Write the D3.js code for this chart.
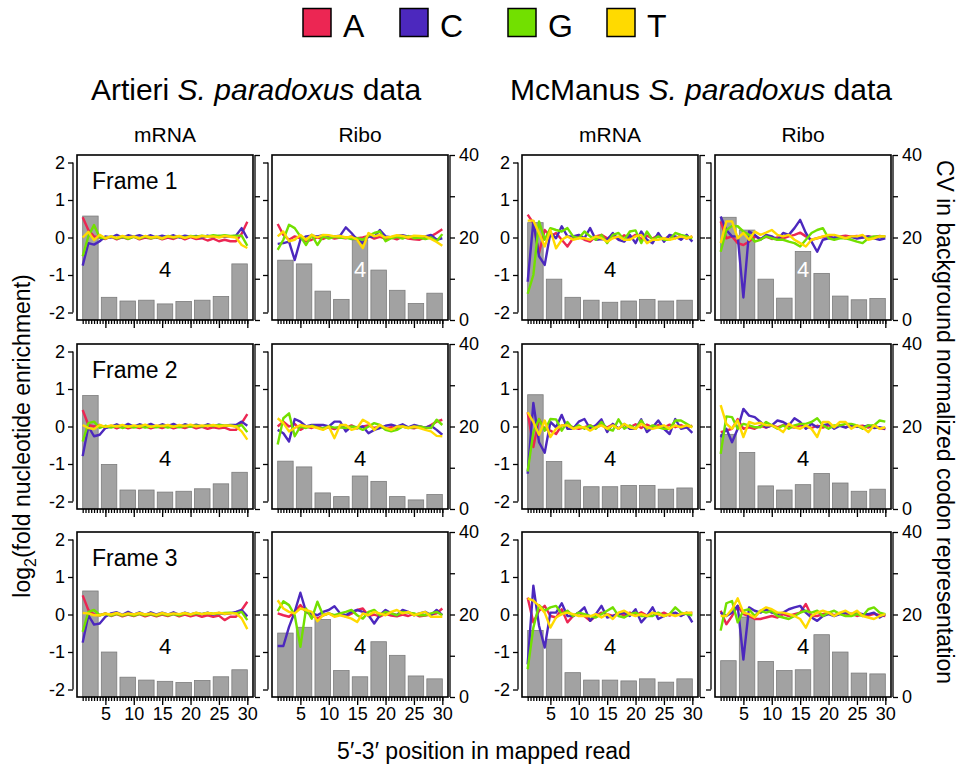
<!DOCTYPE html>
<html>
<head>
<meta charset="utf-8">
<script src="https://cdn.jsdelivr.net/npm/d3@7"></script>
<style>
  html, body { margin: 0; padding: 0; background: #fff; }
  svg { display: block; font-family: "Liberation Sans", Arial, Helvetica, sans-serif; }
</style>
</head>
<body>
<svg id="chart" width="961" height="772"></svg>
<script>
// ---- categories and tick labels ----
const nucleotides = ["A", "C", "G", "T"];
const nucColors = ["#EC2653", "#4C28BE", "#72E000", "#FFDA00"];
const positions = [1,2,3,4,5,6,7,8,9,10,11,12,13,14,15,16,17,18,19,20,21,22,23,24,25,26,27,28,29,30];
const codons = [1,2,3,4,5,6,7,8,9];
const xTickLabels = [5, 10, 15, 20, 25, 30];
const log2Ticks = [-2, -1, 0, 1, 2];
const cvTicks = [0, 10, 20, 30, 40];
const cvTickLabels = [0, 20, 40];
const datasets = ["Artieri", "McManus"];
const libraries = ["mRNA", "Ribo"];
const frames = ["Frame 1", "Frame 2", "Frame 3"];
const markerText = "4";
const markerCodon = 5;

// ---- Artieri mRNA, frame 1 ----
const artMrnaF1_A = [0.54,0.2,0.03,0.0,-0.04,0.02,-0.05,0.01,-0.04,0.02,-0.05,0.0,-0.03,0.01,-0.05,0.0,-0.04,0.02,-0.05,0.01,-0.04,-0.02,-0.08,-0.03,-0.1,-0.06,-0.1,-0.1,0.1,0.42];
const artMrnaF1_C = [-0.75,-0.15,-0.19,-0.1,0.03,0.0,0.07,0.0,0.06,0.02,0.06,0.01,0.06,0.0,0.05,0.01,0.06,0.0,0.05,0.02,0.04,0.0,0.05,0.01,0.04,0.02,0.03,0.05,0.25,-0.02];
const artMrnaF1_G = [-0.5,0.03,0.33,0.0,-0.02,0.03,-0.03,0.02,-0.04,0.02,-0.03,0.03,-0.02,0.02,-0.03,0.04,0.0,0.03,-0.01,0.04,0.02,0.05,0.03,0.06,0.04,0.06,0.04,0.05,0.05,-0.22];
const artMrnaF1_T = [0.0,0.15,-0.07,0.07,-0.02,0.03,-0.01,0.04,0.0,0.03,-0.02,0.04,0.0,0.02,-0.02,0.03,0.01,0.04,-0.01,0.03,0.0,0.04,0.02,0.03,0.0,0.04,0.02,0.0,-0.2,-0.28];
const artMrnaF1_cv = [25.2,5.5,4.6,4.8,3.9,4.5,4.8,5.7,13.6];

// ---- Artieri Ribo, frame 1 ----
const artRiboF1_A = [0.36,0.07,-0.06,0.03,-0.02,-0.1,-0.06,0.0,-0.04,0.02,-0.03,0.0,-0.02,0.03,-0.02,0.0,0.04,-0.03,0.02,-0.04,0.0,-0.05,0.02,-0.03,-0.05,-0.06,0.0,0.03,0.12,0.22];
const artRiboF1_C = [-0.17,-0.15,-0.11,-0.6,-0.06,0.03,0.05,0.03,0.06,0.04,0.03,0.05,0.27,0.12,-0.06,-0.15,0.03,0.01,0.2,0.03,0.0,0.04,0.06,0.02,0.03,0.0,0.03,0.07,-0.06,-0.02];
const artRiboF1_G = [-0.33,-0.06,0.34,0.25,0.03,-0.2,0.07,-0.2,0.03,-0.03,0.02,-0.01,0.0,-0.04,-0.02,-0.06,0.05,0.12,0.16,-0.1,-0.02,0.02,-0.03,0.04,-0.02,0.0,-0.04,0.0,-0.1,0.09];
const artRiboF1_T = [0.03,0.16,-0.1,-0.06,0.07,-0.06,0.07,0.0,0.07,0.06,0.03,0.04,0.0,0.02,-0.06,-0.28,0.12,0.03,0.07,0.0,0.02,0.06,0.04,0.0,0.05,0.04,0.03,-0.04,-0.12,-0.22];
const artRiboF1_cv = [14.5,13.6,7.0,5.0,19.4,12.1,7.2,4.0,6.5];

// ---- McManus mRNA, frame 1 ----
const mcmMrnaF1_A = [0.61,0.38,-0.42,0.2,0.03,0.12,-0.06,-0.24,-0.02,0.03,-0.06,-0.11,0.03,0.07,-0.02,0.04,-0.05,0.06,-0.03,0.07,-0.04,0.05,-0.03,0.06,-0.05,0.04,-0.02,0.05,-0.03,0.03];
const mcmMrnaF1_C = [-1.18,0.43,-0.5,-0.73,0.12,-0.02,0.3,0.03,0.03,0.07,-0.02,0.25,-0.06,-0.04,-0.06,0.12,-0.06,-0.11,0.07,-0.15,0.16,-0.06,-0.15,0.12,-0.11,0.07,0.03,-0.06,0.07,-0.11];
const mcmMrnaF1_G = [-1.5,-1.0,0.43,-0.06,0.25,0.2,0.16,0.25,0.03,-0.02,0.16,0.03,-0.06,0.07,-0.15,0.07,0.12,-0.06,0.16,0.19,-0.15,0.16,-0.06,0.03,-0.06,-0.06,0.12,0.07,0.03,-0.02];
const mcmMrnaF1_T = [0.45,0.45,0.12,-0.24,0.2,-0.29,-0.06,0.03,-0.06,-0.02,-0.02,-0.06,0.03,-0.02,-0.11,-0.02,0.03,-0.06,-0.06,0.03,0.07,-0.15,-0.06,-0.06,-0.02,-0.06,-0.02,0.03,-0.02,0.03];
const mcmMrnaF1_cv = [23.6,9.9,5.5,4.8,4.3,4.6,5.0,4.6,4.8];

// ---- McManus Ribo, frame 1 ----
const mcmRiboF1_A = [0.43,-0.02,0.03,-0.15,-0.2,-0.11,0.03,-0.03,0.02,-0.04,0.0,-0.02,0.03,0.07,0.13,0.03,-0.06,-0.02,0.02,0.04,-0.02,0.03,0.05,0.02,0.04,0.0,0.03,0.01,0.04,0.02];
const mcmRiboF1_C = [0.56,0.2,0.03,0.03,-1.6,0.16,0.07,-0.06,0.07,0.03,-0.06,0.12,0.07,0.25,0.47,0.12,-0.11,-0.38,-0.06,-0.02,0.0,0.03,-0.02,0.02,-0.03,0.0,0.03,-0.02,-0.06,-0.02];
const mcmRiboF1_G = [-0.38,0.2,0.31,0.3,0.16,0.07,-0.11,-0.06,0.03,-0.02,-0.06,-0.06,-0.11,-0.15,-0.24,-0.06,0.12,0.2,0.25,-0.02,-0.06,-0.02,-0.02,-0.06,-0.11,-0.15,-0.02,0.03,0.03,0.03];
const mcmRiboF1_T = [-0.15,0.43,0.43,-0.02,0.12,-0.06,0.16,0.07,0.13,0.2,0.07,0.03,0.07,-0.06,-0.15,-0.24,-0.06,-0.02,0.03,0.07,0.07,0.03,-0.02,0.03,0.03,0.07,-0.06,-0.02,0.03,0.03];
const mcmRiboF1_cv = [24.9,21.8,9.9,5.3,16.6,11.3,5.8,4.9,5.2];

// ---- Artieri mRNA, frame 2 ----
const artMrnaF2_A = [0.44,0.04,0.0,0.04,-0.04,0.02,-0.05,0.01,-0.05,0.0,-0.04,0.01,-0.05,0.0,-0.04,0.01,-0.05,0.0,-0.04,0.01,-0.05,-0.01,-0.06,-0.02,-0.05,-0.03,-0.09,-0.09,0.09,0.33];
const artMrnaF2_C = [-0.79,0.0,-0.26,-0.22,-0.04,0.0,0.06,-0.01,0.07,0.0,0.06,0.01,0.07,0.0,0.06,0.01,0.07,0.0,0.06,0.01,0.05,0.0,0.06,0.01,0.05,0.02,0.04,0.04,0.13,0.02];
const artMrnaF2_G = [-0.4,0.09,0.13,-0.04,0.02,-0.03,0.02,-0.04,0.01,-0.03,0.02,-0.03,0.0,-0.02,0.02,-0.03,0.01,-0.02,0.02,-0.01,0.03,0.0,0.03,0.01,0.04,0.02,0.03,0.0,0.04,-0.15];
const artMrnaF2_T = [0.04,-0.04,-0.07,0.04,-0.01,0.03,0.0,0.04,-0.01,0.03,0.0,0.05,-0.01,0.03,0.01,0.04,-0.01,0.04,0.01,0.05,0.0,0.03,0.01,0.04,0.0,0.03,0.02,0.0,-0.13,-0.35];
const artMrnaF2_cv = [27.5,10.8,4.6,4.6,4.1,4.3,4.9,6.1,8.9];

// ---- Artieri Ribo, frame 2 ----
const artRiboF2_A = [0.0,0.13,0.0,0.07,-0.09,0.0,-0.04,0.02,-0.06,-0.02,-0.07,0.0,-0.04,0.03,-0.05,0.0,0.03,-0.04,0.0,-0.06,-0.02,-0.04,0.0,-0.03,-0.05,0.0,-0.04,0.04,0.13,0.18];
const artRiboF2_C = [-0.09,-0.18,-0.4,0.2,0.13,0.0,0.04,0.04,0.04,0.0,0.13,0.13,-0.13,0.0,-0.04,0.0,-0.18,-0.09,-0.04,0.02,0.05,0.0,0.06,-0.02,0.04,0.0,-0.03,0.02,-0.09,-0.22];
const artRiboF2_G = [-0.48,0.22,0.35,-0.26,0.0,-0.04,0.02,-0.03,-0.05,0.0,-0.03,-0.02,-0.04,0.0,-0.02,-0.09,0.0,0.09,0.04,-0.09,-0.13,-0.09,0.0,-0.04,-0.02,0.0,-0.03,-0.04,0.18,0.04];
const artRiboF2_T = [0.22,0.09,-0.13,-0.04,0.04,0.0,0.0,-0.04,-0.09,0.0,-0.31,0.04,0.04,-0.09,-0.04,0.18,0.09,-0.09,0.04,-0.04,-0.09,0.0,0.0,-0.04,0.0,-0.04,-0.09,-0.13,-0.25,-0.26];
const artRiboF2_cv = [11.6,10.2,3.9,3.0,8.0,6.7,3.0,2.2,3.5];

// ---- McManus mRNA, frame 2 ----
const mcmMrnaF2_A = [0.38,-0.55,0.2,-0.06,-0.11,-0.2,0.03,0.03,-0.02,-0.06,-0.02,0.03,-0.04,0.05,-0.03,0.06,-0.05,0.04,-0.02,0.06,-0.04,0.05,-0.02,0.04,-0.03,0.05,-0.02,0.04,-0.03,0.02];
const mcmMrnaF2_C = [-1.26,0.63,-0.42,-0.7,0.12,-0.02,0.31,-0.06,-0.06,0.13,0.2,-0.06,0.03,0.19,-0.15,0.07,-0.06,0.07,-0.06,-0.06,0.19,-0.15,-0.02,0.16,-0.06,-0.2,0.2,-0.06,-0.02,-0.17];
const mcmMrnaF2_G = [-1.2,-0.15,0.2,-0.11,0.2,0.19,-0.11,0.12,-0.06,0.03,-0.06,0.03,-0.06,0.12,-0.06,-0.11,0.19,-0.06,0.03,-0.06,0.16,-0.06,0.03,-0.02,-0.06,-0.06,0.16,0.16,0.07,-0.02];
const mcmMrnaF2_T = [0.38,0.12,-0.22,0.16,-0.28,-0.06,0.03,0.03,-0.06,-0.02,-0.02,-0.11,-0.02,0.03,-0.06,0.03,-0.06,0.07,-0.02,-0.06,0.07,-0.02,-0.06,-0.02,0.03,-0.06,0.03,-0.02,0.03,-0.02];
const mcmMrnaF2_cv = [27.7,11.5,7.0,5.4,5.4,5.7,5.7,4.8,5.1];

// ---- McManus Ribo, frame 2 ----
const mcmRiboF2_A = [-0.15,-0.11,-0.06,0.2,-0.06,-0.02,-0.06,0.02,-0.03,0.03,-0.02,0.04,0.0,-0.03,0.03,0.0,-0.04,0.02,-0.03,0.03,0.0,0.04,-0.02,0.03,0.0,0.02,-0.03,0.03,-0.05,-0.07];
const mcmRiboF2_C = [-0.28,-0.06,-0.42,-0.06,0.47,0.29,0.25,0.12,-0.02,0.03,0.16,0.12,0.03,0.22,0.12,-0.06,0.07,-0.02,0.03,0.07,-0.06,0.02,-0.03,0.04,0.0,-0.02,0.03,-0.04,-0.02,-0.06];
const mcmRiboF2_G = [-0.73,0.27,0.25,-0.06,0.07,0.03,-0.02,-0.02,0.12,0.03,-0.06,0.03,-0.06,0.03,0.07,0.07,0.12,0.22,0.03,-0.06,0.03,0.03,0.07,0.07,0.03,-0.06,0.03,0.03,0.16,0.13];
const mcmRiboF2_T = [0.57,0.07,-0.06,0.16,-0.28,0.12,0.07,0.1,0.03,0.03,-0.04,-0.15,0.07,-0.02,-0.06,0.03,-0.06,-0.28,0.12,0.12,-0.02,0.12,0.12,-0.06,0.03,-0.02,-0.15,0.03,-0.06,-0.02];
const mcmRiboF2_cv = [18.1,13.7,5.6,4.6,5.9,8.6,6.3,4.3,4.8];

// ---- Artieri mRNA, frame 3 ----
const artMrnaF3_A = [0.51,0.12,0.0,-0.02,0.03,-0.04,0.01,-0.05,0.0,-0.04,0.01,-0.05,0.0,-0.05,0.0,-0.04,0.01,-0.05,0.0,-0.05,-0.01,-0.06,-0.02,-0.06,-0.03,-0.15,-0.06,-0.06,0.12,0.34];
const artMrnaF3_C = [-0.75,-0.02,-0.27,-0.24,-0.06,0.03,0.06,-0.01,0.07,0.0,0.06,-0.01,0.06,0.0,0.05,0.0,0.06,-0.01,0.05,0.0,0.04,0.01,0.05,0.0,0.04,0.01,0.03,0.07,0.12,-0.05];
const artMrnaF3_G = [-0.46,0.07,0.12,-0.02,0.02,-0.03,0.02,-0.03,0.01,-0.03,0.02,-0.02,0.01,-0.03,0.02,-0.02,0.01,-0.02,0.03,0.0,0.03,0.01,0.04,0.02,0.03,0.04,0.05,0.03,0.07,-0.15];
const artMrnaF3_T = [0.04,0.03,-0.02,-0.02,0.02,0.0,0.04,-0.01,0.03,0.0,0.04,0.0,0.03,-0.01,0.04,0.0,0.03,0.01,0.04,0.0,0.05,0.01,0.04,0.02,0.05,0.02,0.03,0.03,-0.1,-0.39];
const artMrnaF3_cv = [25.7,10.9,4.8,4.1,3.8,3.5,4.0,4.9,6.6];

// ---- Artieri Ribo, frame 3 ----
const artRiboF3_A = [0.03,-0.02,-0.06,0.07,0.25,0.07,-0.02,-0.11,-0.02,0.03,-0.04,0.0,-0.05,0.02,0.12,0.16,-0.04,0.0,-0.06,0.02,-0.03,-0.05,0.0,-0.04,0.02,-0.05,-0.03,0.0,0.03,0.16];
const artRiboF3_C = [-0.84,-0.84,-0.33,0.07,0.58,0.07,0.03,-0.02,0.07,0.12,0.22,0.03,-0.02,0.07,0.12,0.07,-0.02,-0.24,-0.02,0.12,0.03,-0.02,0.12,0.07,-0.02,0.03,0.07,-0.02,0.12,-0.02];
const artRiboF3_G = [0.09,0.35,0.25,-0.02,-0.86,0.16,-0.11,0.34,-0.02,0.03,-0.02,0.03,0.07,0.12,-0.02,-0.11,0.07,0.12,-0.02,0.07,0.03,-0.02,0.07,0.05,0.03,-0.02,-0.02,0.03,0.07,-0.02];
const artRiboF3_T = [0.38,0.16,0.07,0.03,0.16,0.12,0.07,-0.18,-0.02,0.03,-0.06,-0.02,-0.06,-0.11,-0.2,0.03,-0.02,0.07,0.03,-0.02,0.07,0.12,0.03,0.07,-0.02,0.03,0.07,-0.06,-0.06,-0.06];
const artRiboF3_cv = [15.5,16.9,18.8,6.4,4.9,13.4,10.1,5.1,4.4];

// ---- McManus mRNA, frame 3 ----
const mcmMrnaF3_A = [0.45,-0.21,0.1,0.23,-0.04,-0.08,0.14,-0.21,-0.04,0.05,-0.04,-0.17,-0.04,0.05,0.01,-0.04,0.04,-0.03,0.05,-0.02,0.06,-0.03,0.04,-0.02,0.05,-0.03,0.04,-0.02,0.03,0.05];
const mcmMrnaF3_C = [-1.33,0.77,-0.3,-0.88,0.05,0.05,0.3,-0.04,-0.04,0.05,0.19,-0.17,0.01,0.23,-0.08,-0.04,0.01,0.05,-0.04,0.14,-0.21,-0.04,0.19,-0.12,-0.04,0.01,0.05,-0.04,0.05,-0.21];
const mcmMrnaF3_G = [-1.46,-0.35,0.25,0.1,0.19,0.23,0.01,0.1,-0.04,0.05,0.01,-0.04,-0.08,0.01,0.1,0.19,-0.04,-0.08,0.01,0.05,-0.04,-0.04,-0.04,0.05,-0.04,0.01,0.19,0.05,0.01,-0.02];
const mcmMrnaF3_T = [0.43,0.37,0.23,0.05,-0.35,-0.08,0.01,0.05,0.01,-0.04,-0.04,-0.05,0.01,-0.08,0.01,-0.12,0.05,0.1,0.01,-0.04,0.01,-0.04,0.05,0.01,-0.04,0.01,-0.04,0.01,0.05,0.04];
const mcmMrnaF3_cv = [16.1,14.0,5.9,4.1,4.1,3.9,4.4,3.6,4.4];

// ---- McManus Ribo, frame 3 ----
const mcmRiboF3_A = [0.1,-0.26,-0.04,0.23,0.01,-0.04,-0.12,-0.12,-0.08,-0.04,-0.08,0.01,-0.04,0.01,0.05,0.28,-0.04,-0.04,0.01,0.05,-0.02,0.03,-0.03,0.02,-0.04,0.01,-0.03,0.02,-0.02,-0.04];
const mcmRiboF3_C = [0.05,-0.04,0.05,0.23,-1.2,0.19,0.1,0.05,0.14,0.05,0.01,0.05,0.14,0.19,0.23,0.05,-0.08,-0.17,-0.04,0.01,-0.04,0.01,0.05,0.01,0.05,0.01,0.01,0.05,-0.08,0.01];
const mcmRiboF3_G = [-0.43,0.3,0.36,-0.21,0.1,0.14,-0.04,0.1,0.05,0.1,-0.04,-0.08,-0.12,-0.04,0.05,0.1,0.05,0.1,-0.04,0.05,0.1,0.01,-0.04,-0.04,0.01,-0.04,0.14,0.19,0.05,0.01];
const mcmRiboF3_T = [-0.04,-0.04,0.14,0.43,0.05,0.01,-0.08,0.1,0.19,0.14,0.05,0.05,0.01,-0.04,-0.12,-0.35,-0.04,0.05,0.1,0.05,-0.04,0.05,0.1,0.01,0.1,-0.04,-0.08,-0.12,-0.04,0.01];
const mcmRiboF3_cv = [8.8,19.4,8.6,6.4,6.6,15.1,10.9,5.8,5.6];

// Panel grid: rows are reading frames, columns are dataset x library
const panelGrid = [
  [
    { cv: artMrnaF1_cv, lines: [artMrnaF1_A, artMrnaF1_C, artMrnaF1_G, artMrnaF1_T] },
    { cv: artRiboF1_cv, lines: [artRiboF1_A, artRiboF1_C, artRiboF1_G, artRiboF1_T] },
    { cv: mcmMrnaF1_cv, lines: [mcmMrnaF1_A, mcmMrnaF1_C, mcmMrnaF1_G, mcmMrnaF1_T] },
    { cv: mcmRiboF1_cv, lines: [mcmRiboF1_A, mcmRiboF1_C, mcmRiboF1_G, mcmRiboF1_T] }
  ],
  [
    { cv: artMrnaF2_cv, lines: [artMrnaF2_A, artMrnaF2_C, artMrnaF2_G, artMrnaF2_T] },
    { cv: artRiboF2_cv, lines: [artRiboF2_A, artRiboF2_C, artRiboF2_G, artRiboF2_T] },
    { cv: mcmMrnaF2_cv, lines: [mcmMrnaF2_A, mcmMrnaF2_C, mcmMrnaF2_G, mcmMrnaF2_T] },
    { cv: mcmRiboF2_cv, lines: [mcmRiboF2_A, mcmRiboF2_C, mcmRiboF2_G, mcmRiboF2_T] }
  ],
  [
    { cv: artMrnaF3_cv, lines: [artMrnaF3_A, artMrnaF3_C, artMrnaF3_G, artMrnaF3_T] },
    { cv: artRiboF3_cv, lines: [artRiboF3_A, artRiboF3_C, artRiboF3_G, artRiboF3_T] },
    { cv: mcmMrnaF3_cv, lines: [mcmMrnaF3_A, mcmMrnaF3_C, mcmMrnaF3_G, mcmMrnaF3_T] },
    { cv: mcmRiboF3_cv, lines: [mcmRiboF3_A, mcmRiboF3_C, mcmRiboF3_G, mcmRiboF3_T] }
  ]
];

// ---- layout ----
const panelW = 176, panelH = 165;
const colLeft = [77, 272, 522, 715];
const rowTop = [155, 344, 532];
const svg = d3.select("#chart");

// Legend
const legendX = [303, 400, 508, 607];
const legend = svg.append("g");
nucleotides.forEach((n, i) => {
  legend.append("rect")
    .attr("x", legendX[i]).attr("y", 8.5).attr("width", 28).attr("height", 28)
    .attr("fill", nucColors[i]).attr("stroke", "#000").attr("stroke-width", 1.5);
  legend.append("text")
    .attr("x", legendX[i] + 40).attr("y", 36.5)
    .attr("font-size", 32).text(n);
});

// Dataset titles
const titleCenters = [256, 701];
datasets.forEach((d, i) => {
  const t = svg.append("text")
    .attr("x", titleCenters[i]).attr("y", 100)
    .attr("text-anchor", "middle").attr("font-size", 30);
  t.append("tspan").text(d + " ");
  t.append("tspan").attr("font-style", "italic").text("S. paradoxus");
  t.append("tspan").text(" data");
});

// Library headers
colLeft.forEach((cl, c) => {
  svg.append("text")
    .attr("x", cl + panelW / 2).attr("y", 142)
    .attr("text-anchor", "middle").attr("font-size", 21)
    .text(libraries[c % 2]);
});

// Axis titles
const yTitle = svg.append("text")
  .attr("transform", "translate(30,436) rotate(-90)")
  .attr("text-anchor", "middle").attr("font-size", 23);
yTitle.append("tspan").text("log");
yTitle.append("tspan").attr("font-size", 16).attr("dy", 6).text("2");
yTitle.append("tspan").attr("dy", -6).text("(fold nucleotide enrichment)");

svg.append("text")
  .attr("transform", "translate(937,422) rotate(90)")
  .attr("text-anchor", "middle").attr("font-size", 23)
  .text("CV in background normalized codon representation");

svg.append("text")
  .attr("x", 484).attr("y", 759)
  .attr("text-anchor", "middle").attr("font-size", 23)
  .text("5\u2032-3\u2032 position in mapped read");

// Panels
const minorTicks = d3.range(1, 30.01, 0.5);

panelGrid.forEach((row, r) => {
  row.forEach((panel, c) => {
    const left = colLeft[c], top = rowTop[r];
    const x = d3.scaleLinear().domain([0, 31]).range([left, left + panelW]);
    const y = d3.scaleLinear().domain([-2.2, 2.2]).range([top + panelH, top]);
    const yCv = d3.scaleLinear().domain([0, 40]).range([top + panelH, top]);
    const band = d3.scaleBand().domain(codons)
      .range([x(positions[0]), x(positions[positions.length - 1])])
      .paddingInner(0.17).paddingOuter(0);
    const g = svg.append("g");

    // CV bars
    g.selectAll("rect.bar").data(panel.cv).join("rect")
      .attr("class", "bar")
      .attr("x", (d, i) => band(codons[i]))
      .attr("width", band.bandwidth())
      .attr("y", d => yCv(d))
      .attr("height", d => yCv(0) - yCv(d))
      .attr("fill", "#a2a2a2").attr("stroke", "#7c7c7c").attr("stroke-width", 0.8);

    // Marker label; drawn white where it sits on top of a tall bar
    const mIdx = codons.indexOf(markerCodon);
    const onBar = yCv(panel.cv[mIdx]) < y(-1) - 16;
    g.append("text")
      .attr("x", band(markerCodon) + band.bandwidth() / 2)
      .attr("y", y(-1) + 1.5)
      .attr("text-anchor", "middle").attr("font-size", 22)
      .attr("fill", onBar ? "#fff" : "#000")
      .text(markerText);

    // Nucleotide enrichment lines
    const line = d3.line().x((d, i) => x(positions[i])).y(d => y(d));
    panel.lines.forEach((vals, k) => {
      g.append("path").datum(vals)
        .attr("d", line)
        .attr("fill", "none").attr("stroke", nucColors[k])
        .attr("stroke-width", 2.4).attr("stroke-linejoin", "round");
    });

    // Frame box
    g.append("rect")
      .attr("x", left).attr("y", top).attr("width", panelW).attr("height", panelH)
      .attr("fill", "none").attr("stroke", "#000").attr("stroke-width", 1.6);

    // Left axis (log2 enrichment)
    const la = g.append("g").attr("transform", `translate(${left - 4},0)`)
      .call(d3.axisLeft(y).tickValues(log2Ticks).tickSize(5).tickPadding(3)
        .tickFormat(c % 2 === 0 ? (d => String(d)) : () => ""));
    la.select(".domain").remove();
    la.append("line").attr("x1", 0).attr("x2", 0)
      .attr("y1", y(log2Ticks[0])).attr("y2", y(log2Ticks[log2Ticks.length - 1]))
      .attr("stroke", "#000").attr("stroke-width", 1.3);

    // Right axis (CV)
    const ra = g.append("g").attr("transform", `translate(${left + panelW + 2},0)`)
      .call(d3.axisRight(yCv).tickValues(cvTicks).tickSize(5).tickPadding(4)
        .tickFormat(d => (c % 2 === 1 && cvTickLabels.includes(d)) ? String(d) : ""));
    ra.select(".domain").remove();
    ra.append("line").attr("x1", 0).attr("x2", 0)
      .attr("y1", yCv(0)).attr("y2", yCv(40))
      .attr("stroke", "#000").attr("stroke-width", 1.3);

    // Bottom axis: minor and labelled ticks
    const bMinor = g.append("g").attr("transform", `translate(0,${top + panelH})`)
      .call(d3.axisBottom(x).tickValues(minorTicks).tickSize(4).tickFormat(() => ""));
    bMinor.select(".domain").remove();
    const bMajor = g.append("g").attr("transform", `translate(0,${top + panelH})`)
      .call(d3.axisBottom(x).tickValues(xTickLabels).tickSize(8).tickPadding(2)
        .tickFormat(r === 2 ? (d => String(d)) : () => ""));
    bMajor.select(".domain").remove();

    [la, ra, bMinor, bMajor].forEach(a => {
      a.selectAll(".tick line").attr("stroke", "#000").attr("stroke-width", 1.3);
      a.selectAll(".tick text").attr("font-size", 18).attr("fill", "#000")
        .attr("font-family", "'Liberation Sans', Arial, sans-serif");
    });

    // Frame label
    if (c === 0) {
      g.append("text").attr("x", left + 15).attr("y", top + 34)
        .attr("font-size", 23).text(frames[r]);
    }
  });
});
</script>
</body>
</html>
